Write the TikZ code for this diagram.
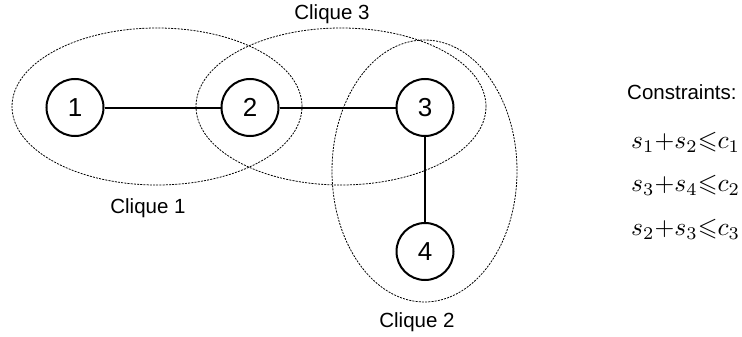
\documentclass[tikz,border=0pt]{standalone}
\usepackage{fontspec}
\setmainfont{Liberation Sans}
\usepackage{amssymb}
\usepackage{graphicx}
\usetikzlibrary{shapes.geometric, positioning}
\tikzstyle{vertex} = [circle, draw, line width=2pt, minimum size=57pt, inner sep=0pt, font=\fontsize{26}{30}\selectfont]
\tikzstyle{clique} = [ellipse, draw, line width=0.8pt, dash pattern=on 2pt off 1.2pt, inner sep=0pt]
\tikzstyle{label} = [font=\fontsize{20.5}{24}\selectfont]
\tikzstyle{cstr} = [anchor=west, inner sep=0pt]
\tikzstyle{edge} = [line width=2pt]
\newcommand{\cons}[1]{\scalebox{2.55}{$#1$}}

\begin{document}
\begin{tikzpicture}[x=1pt, y=-1pt, node distance=116pt]
\useasboundingbox (0,0) rectangle (742,337);
%Graph
\node (n1) [vertex] at (75,107.5) {1};
\node (n2) [vertex, right = of n1] {2};
\node (n3) [vertex, right = of n2] {3};
\node (n4) [vertex, below = 85pt of n3] {4};
\draw [edge] (n1) -- (n2);
\draw [edge] (n2) -- (n3);
\draw [edge] (n3) -- (n4);
%Cliques
\node (clq1) [clique, minimum width=290pt, minimum height=157pt] at (157,106.5) {};
\node (clq3) [clique, minimum width=290pt, minimum height=157pt] at (341,106.5) {};
\node (clq2) [clique, minimum width=185pt, minimum height=262pt] at (424.5,171) {};
\node (lbl1) [label] at (148,208) {Clique 1};
\node (lbl2) [label] at (417,322) {Clique 2};
\node (lbl3) [label] at (332,14) {Clique 3};
%Constraints
\node (title) [label, anchor=west, inner sep=0pt] at (627,92) {Constraints:};
\node (eq1) [cstr] at (631,142) {\cons{s_1{+}s_2{\leqslant}c_1}};
\node (eq2) [cstr] at (631,185.5) {\cons{s_3{+}s_4{\leqslant}c_2}};
\node (eq3) [cstr] at (631,229) {\cons{s_2{+}s_3{\leqslant}c_3}};
\end{tikzpicture}
\end{document}
